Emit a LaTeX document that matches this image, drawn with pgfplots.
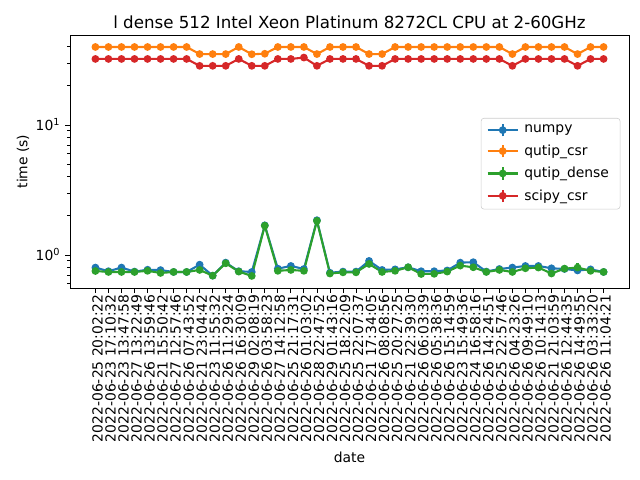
\documentclass[border=0pt]{standalone}
\usepackage{pgfplots}
\usepackage{pgfplotstable}
\pgfplotsset{compat=1.18}
\usepackage{fontspec}
\setmainfont{DejaVu Sans}
\definecolor{tabblue}{HTML}{1F77B4}
\definecolor{taborange}{HTML}{FF7F0E}
\definecolor{tabgreen}{HTML}{2CA02C}
\definecolor{tabred}{HTML}{D62728}

\pgfplotstableread{
x numpy nerr qcsr qdense qderr scipy
0 0.80 0 39.8 0.753 0 32.2
1 0.75 0 39.8 0.74 0 32.2
2 0.80 0 39.8 0.74 0 32.2
3 0.745 0 39.8 0.74 0 32.2
4 0.77 0.03 39.8 0.755 0 32.2
5 0.765 0 39.8 0.727 0 32.2
6 0.74 0 39.8 0.74 0 32.2
7 0.74 0 39.8 0.74 0 32.2
8 0.842 0 35.1 0.767 0 28.5
9 0.693 0 35.1 0.693 0 28.5
10 0.873 0 35.1 0.863 0 28.5
11 0.75 0 39.8 0.745 0 32.2
12 0.74 0 35.0 0.69 0 28.5
13 1.69 0 35.3 1.68 0 28.5
14 0.785 0 39.8 0.755 0 32.2
15 0.823 0 39.8 0.767 0 32.2
16 0.78 0 39.8 0.755 0 33.0
17 1.85 0 35.1 1.83 0 28.5
18 0.73 0 39.8 0.72 0 32.2
19 0.745 0 39.8 0.735 0 32.2
20 0.745 0 39.8 0.735 0 32.2
21 0.90 0 35.1 0.853 0 28.5
22 0.767 0 35.1 0.74 0 28.5
23 0.775 0 39.8 0.755 0 32.2
24 0.804 0 39.8 0.804 0 32.2
25 0.75 0 39.8 0.714 0 32.2
26 0.75 0 39.8 0.716 0 32.2
27 0.76 0 39.8 0.745 0 32.2
28 0.873 0 39.8 0.828 0 32.2
29 0.88 0 39.8 0.804 0 32.2
30 0.745 0 39.8 0.74 0 32.2
31 0.78 0 39.8 0.767 0 32.2
32 0.80 0 35.1 0.74 0 28.5
33 0.823 0 39.8 0.79 0 32.2
34 0.823 0 39.8 0.80 0 32.2
35 0.79 0 39.8 0.72 0 32.2
36 0.78 0 39.8 0.785 0 32.2
37 0.76 0 35.1 0.80 0.065 28.5
38 0.775 0 39.8 0.755 0 32.2
39 0.74 0 39.8 0.74 0 32.2
}\datatable

\begin{document}
\begin{tikzpicture}
\useasboundingbox (-50.4pt,-138.24pt) rectangle (410.4pt,207.36pt);
\begin{axis}[
  at={(0pt,0pt)}, anchor=south west,
  scale only axis, width=402.48pt, height=182.16pt,
  ymode=log,
  xmin=-1.95, xmax=40.95,
  ymin=0.557, ymax=49.2,
  axis line style={line width=0.6pt},
  tick align=outside,
  xtick pos=left, ytick pos=left,
  major tick length=3.5pt, minor tick length=2pt,
  every tick/.style={black, line width=0.6pt},
  xtick={0,...,39},
  xticklabels={2022-06-25 20:02:22,2022-06-23 17:10:32,2022-06-23 13:47:58,2022-06-27 13:22:49,2022-06-26 13:59:46,2022-06-21 15:50:42,2022-06-27 12:57:46,2022-06-26 07:43:52,2022-06-21 23:04:42,2022-06-23 11:55:32,2022-06-26 11:29:24,2022-06-26 16:30:09,2022-06-29 02:08:19,2022-06-26 03:58:23,2022-06-27 14:12:58,2022-06-25 21:17:31,2022-06-26 01:03:02,2022-06-28 22:47:52,2022-06-29 01:43:16,2022-06-25 18:22:09,2022-06-25 22:07:37,2022-06-21 17:34:05,2022-06-26 08:08:56,2022-06-25 20:27:25,2022-06-21 22:39:30,2022-06-26 06:03:39,2022-06-26 05:38:36,2022-06-26 15:14:59,2022-06-23 15:49:36,2022-06-24 16:58:16,2022-06-26 14:24:51,2022-06-25 22:57:46,2022-06-26 04:23:26,2022-06-26 09:49:10,2022-06-26 10:14:13,2022-06-21 21:03:59,2022-06-26 12:44:35,2022-06-26 14:49:55,2022-06-26 03:33:20,2022-06-26 11:04:21},
  xticklabel style={rotate=90, anchor=east, font=\fontsize{10}{12}\selectfont, inner sep=1pt, xshift=0pt, yshift=-1.5pt},
  ytick={1,10},
  yticklabels={10\textsuperscript{0},10\textsuperscript{1}},
  minor ytick={0.6,0.7,0.8,0.9,2,3,4,5,6,7,8,9,20,30,40},
  yticklabel style={font=\fontsize{10}{12}\selectfont},
  xlabel={date},
  ylabel={time (s)},
  xlabel style={font=\fontsize{10}{12}\selectfont, at={(axis description cs:0.5,0)}, anchor=center, yshift=-121.7pt},
  ylabel style={font=\fontsize{10}{12}\selectfont, at={(axis description cs:0,0.5)}, anchor=center, yshift=33.8pt},
  title={l dense 512 Intel Xeon Platinum 8272CL CPU at 2-60GHz},
  title style={font=\fontsize{12}{14}\selectfont, at={(axis description cs:0.5,1)}, anchor=center, yshift=3.5pt},
  legend style={at={(axis description cs:0.9845,0.672)}, anchor=north east, draw=black!20, rounded corners=2pt, fill=white, fill opacity=0.8, text opacity=1, font=\fontsize{10}{12}\selectfont, row sep=3pt, inner xsep=4pt, inner ysep=3pt,
    nodes={inner xsep=4pt}},
  legend cell align=left,
  legend image code/.code={
    \draw[#1, mark=none, line width=1.5pt] (0pt,0pt) -- (21.6pt,0pt);
    \draw[#1, mark=none, line width=1.5pt] (10.8pt,-4.5pt) -- (10.8pt,4.5pt);
    \fill[#1] (10.8pt,0pt) circle (2pt);
  },
  error bars/y dir=both, error bars/y explicit,
  error bars/error mark=none,
]
\addplot[tabblue, line width=1.5pt, mark=*, mark size=2pt, error bars/error bar style={line width=1.5pt}] table[x=x, y=numpy, y error=nerr] {\datatable};
\addlegendentry{numpy}
\addplot[taborange, line width=1.5pt, mark=*, mark size=2pt, error bars/error bar style={line width=1.5pt}] table[x=x, y=qcsr, y error expr=0] {\datatable};
\addlegendentry{qutip\_csr}
\addplot[tabgreen, line width=1.5pt, mark=*, mark size=2pt, error bars/error bar style={line width=1.5pt}] table[x=x, y=qdense, y error=qderr] {\datatable};
\addlegendentry{qutip\_dense}
\addplot[tabred, line width=1.5pt, mark=*, mark size=2pt, error bars/error bar style={line width=1.5pt}] table[x=x, y=scipy, y error expr=0] {\datatable};
\addlegendentry{scipy\_csr}
\end{axis}
\end{tikzpicture}
\end{document}
